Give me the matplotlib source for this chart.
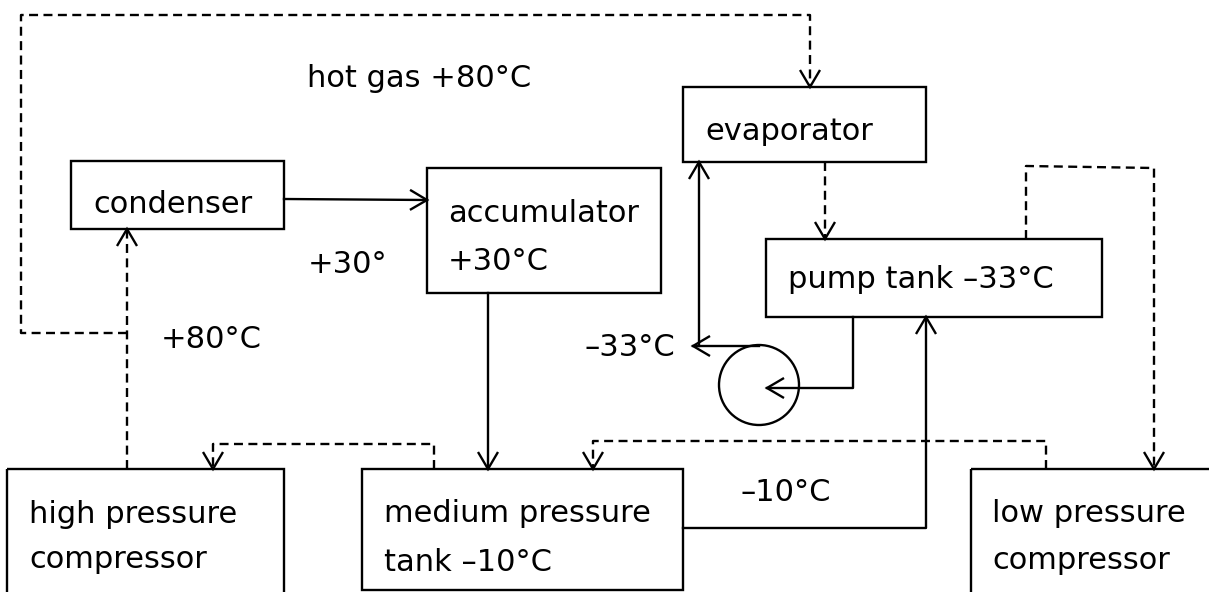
import numpy as np
import matplotlib.pyplot as plt
from matplotlib.patches import Rectangle, Circle

# boxes: (x0, y0, x1, y1) in picture pixels, y going down
box_names = ["condenser", "accumulator", "evaporator", "pump tank",
             "high pressure compressor", "medium pressure tank", "low pressure compressor"]
box_x0 = [71, 427, 683, 766, 7, 362, 971]
box_y0 = [161, 168, 87, 239, 469, 469, 469]
box_x1 = [284, 661, 926, 1102, 284, 683, 1215]
box_y1 = [229, 293, 162, 317, 600, 590, 600]

# text labels: (text, x, baseline y)
label_text = ["condenser", "accumulator", "+30°C", "evaporator", "pump tank –33°C",
              "hot gas +80°C", "+30°", "+80°C", "–33°C", "–10°C",
              "high pressure", "compressor", "medium pressure", "tank –10°C",
              "low pressure", "compressor"]
label_x = [93, 448, 448, 705, 788, 307, 308, 161, 585, 741, 29, 29, 384, 384, 992, 992]
label_y = [213, 222, 270, 140, 288, 87, 273, 348, 356, 501, 523, 568, 522, 571, 522, 569]

# solid flow lines, arrow at the last point
solid_paths = [
    [(284, 199), (427, 200)],
    [(488, 293), (488, 469)],
    [(853, 317), (853, 388), (767, 388)],
    [(759, 346), (693, 346)],
    [(699, 346), (699, 162)],
    [(683, 528), (926, 528), (926, 317)],
]

# dashed gas lines, arrow at the last point
dashed_paths = [
    [(127, 469), (127, 229)],
    [(127, 333), (21, 333), (21, 15), (810, 15), (810, 87)],
    [(825, 162), (825, 239)],
    [(1026, 239), (1026, 166), (1154, 168), (1154, 469)],
    [(434, 469), (434, 444), (213, 444), (213, 469)],
    [(1046, 469), (1046, 441), (593, 441), (593, 469)],
]

pump_center = (759, 385)
pump_radius = 40

W, H = 1209, 592
fig = plt.figure(figsize=(W / 100, H / 100), dpi=100)
ax = fig.add_axes([0, 0, 1, 1])
ax.set_xlim(0, W)
ax.set_ylim(H, 0)
ax.axis("off")

lw = 1.7


def head(p0, p1):
    # open V arrow head at p1
    d = np.array(p1, float) - np.array(p0, float)
    d /= np.hypot(*d)
    n = np.array([-d[1], d[0]])
    tip = np.array(p1, float)
    a = tip - 17 * d + 10 * n
    b = tip - 17 * d - 10 * n
    ax.plot([a[0], tip[0], b[0]], [a[1], tip[1], b[1]], color="k", lw=lw,
            solid_joinstyle="miter", solid_capstyle="butt")


for x0, y0, x1, y1 in zip(box_x0, box_y0, box_x1, box_y1):
    ax.add_patch(Rectangle((x0, y0), x1 - x0, y1 - y0, fill=False, ec="k", lw=lw))

ax.add_patch(Circle(pump_center, pump_radius, fill=False, ec="k", lw=lw))

for path in solid_paths:
    xs, ys = zip(*path)
    ax.plot(xs, ys, color="k", lw=lw)
    head(path[-2], path[-1])

for path in dashed_paths:
    xs, ys = zip(*path)
    ax.plot(xs, ys, color="k", lw=lw, linestyle=(0, (3.8, 2.3)))
    head(path[-2], path[-1])

for t, x, y in zip(label_text, label_x, label_y):
    ax.text(x, y, t, fontsize=22, family="DejaVu Sans", ha="left", va="baseline")

fig.savefig("out.png", dpi=100)
